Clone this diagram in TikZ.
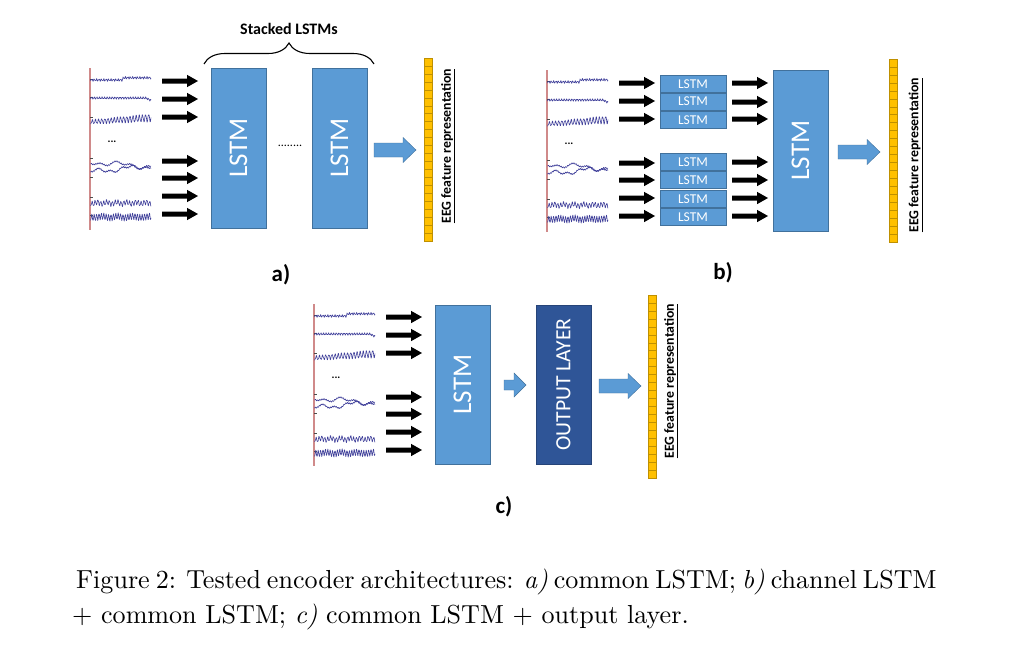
\documentclass[tikz,border=0pt]{standalone}
\usepackage{fontspec}
\usepackage{graphicx}
\newfontfamily\calib{Carlito}
\usetikzlibrary{decorations.pathreplacing}
\definecolor{lblue}{HTML}{5B9BD5}
\definecolor{lbluedk}{HTML}{41719C}
\definecolor{dblue}{HTML}{2F5597}
\definecolor{dbluedk}{HTML}{264478}
\definecolor{gold}{HTML}{FFC000}
\definecolor{golddk}{HTML}{BF9000}
\definecolor{sigcol}{HTML}{3F3F9A}
\definecolor{redax}{HTML}{D08A8A}
\tikzset{
  sig/.style={draw=sigcol, line width=0.6pt, line join=round},
  bigbox/.style={rectangle, fill=lblue, draw=lbluedk, line width=0.3pt, minimum width=55pt, minimum height=160pt, inner sep=0pt},
  outbox/.style={rectangle, fill=dblue, draw=dbluedk, line width=0.3pt, minimum width=55pt, minimum height=159pt, inner sep=0pt},
  smallbox/.style={rectangle, fill=lblue, draw=lbluedk, line width=0.5pt, minimum width=66pt, minimum height=17pt, inner sep=0pt, text=white, font=\calib\fontsize{13.5}{13.5}\selectfont},
  bigtxt/.style={text=white, font=\calib\fontsize{27}{27}\selectfont, rotate=90, inner sep=0pt},
  outtxt/.style={text=white, font=\calib\fontsize{21.7}{21.7}\selectfont, rotate=90, inner sep=0pt},
  feattxt/.style={font=\calib\bfseries\fontsize{13.8}{13.8}\selectfont, rotate=90, inner sep=0pt},
  paneltxt/.style={font=\calib\bfseries\fontsize{23}{23}\selectfont, inner sep=0pt},
  captxt/.style={anchor=base west, inner sep=0pt, font=\fontsize{10}{12}\selectfont},
  blackarr/.pic={\fill[black] (0,-2.5) -- (25,-2.5) -- (25,-6.2) -- (36,0) -- (25,6.2) -- (25,2.5) -- (0,2.5) -- cycle;},
  bigarr/.pic={\filldraw[fill=lblue, draw=lbluedk, line width=0.4pt] (0,-7) -- (29,-7) -- (29,-12.5) -- (42,0) -- (29,12.5) -- (29,7) -- (0,7) -- cycle;},
  smallarr/.pic={\filldraw[fill=lblue, draw=lbluedk, line width=0.4pt] (0,-5) -- (10,-5) -- (10,-12) -- (22,0) -- (10,12) -- (10,5) -- (0,5) -- cycle;},
  featbar/.pic={\foreach \i in {0,...,22} {\filldraw[fill=gold, draw=golddk, line width=0.4pt] (0,{\i*7.95}) rectangle (8.5,{\i*7.95+7.95});}},
  eeg/.pic={
    \draw[redax, line width=1.2pt] (0,0) -- (0,162);
    \foreach \t in {11,29,49,90,109,129,147} {\draw[black!70, line width=0.4pt] (0,\t) -- (2.5,\t);}
    \draw[sig] plot[domain=0.5:61, samples=200] (\x, {12 - 2.2*(\x>33) + 0.9*sin(150*\x) + 0.5*sin(250*mod(\x,36)+30)});
    \draw[sig] plot[domain=0.5:61, samples=200] (\x, {30 + 0.8*sin(140*\x+20) + 0.5*sin(290*mod(\x,36)) + (\x>56)*(\x-56)*0.5});
    \draw[sig] plot[domain=0.5:61, samples=200] (\x, {54 - 0.07*\x + (1.9+0.03*\x)*sin(115*\x) + 0.6*sin(247*\x)});
    \draw[sig] plot[domain=0.5:61, samples=200] (\x, {94 + 1.8*sin(9*\x) + 1.4*sin(23*\x+40) + 0.08*\x + 0.6*sin(170*\x)});
    \draw[sig] plot[domain=0.5:61, samples=200] (\x, {104 - 0.1*\x + 1.8*sin(11*\x+200) + 1.2*sin(31*\x) + 0.6*sin(190*\x)});
    \draw[sig] plot[domain=0.5:61, samples=200] (\x, {135 + 2.3*sin(125*\x) + 0.9*sin(37*\x) + 0.6*sin(280*mod(\x,9))});
    \draw[sig] plot[domain=0.5:61, samples=200] (\x, {149 + 3.1*sin(150*\x) + 0.7*sin(23*\x) + 0.5*sin(330*mod(\x,12))});
    \node[font=\calib\bfseries\fontsize{11}{11}\selectfont, inner sep=0pt] (dots) at (22,74) {...};
    \foreach \r in {13,31,49,93,110,128,146} {\pic at (72,\r) {blackarr};}
  }
}
\begin{document}
\begin{tikzpicture}[x=1pt,y=-1pt]
\fill[white] (0,0) rectangle (1013,653);
\useasboundingbox (0,0) rectangle (1013,653);

% ---------- panel a ----------
\pic (sa) at (90,68) {eeg};
\node[bigbox] (a1) at (238.5,148) {};
\node[bigtxt] (a1t) at (a1.center) {LSTM};
\node[bigbox] (a2) at (339.5,148) {};
\node[bigtxt] (a2t) at (a2.center) {LSTM};
\node[font=\calib\fontsize{12}{12}\selectfont, inner sep=0pt] (adots) at (290,146) {........};
\coordinate (bl) at (204,64);
\coordinate (br) at (374,64);
\draw[line width=1.1pt, decorate, decoration={brace, amplitude=21pt}] (bl) -- (br);
\node[font=\calib\bfseries\fontsize{16}{16}\selectfont, inner sep=0pt] (stk) at (289,29) {Stacked LSTMs};
\pic at (374,150) {bigarr};
\pic at (424,58) {featbar};
\node[feattxt] (fa) at (448,146) {\underline{EEG feature representation}};
\node[paneltxt] (la) at (281,275) {a)};

% ---------- panel b ----------
\pic (sb) at (547,70) {eeg};
\foreach \yy [count=\k] in {84,101.5,120,162,180,199,217} {
  \node[smallbox] (s\k) at (693,\yy) {LSTM};
}
\foreach \r in {83,102,119,162,180,198,216} {\pic at (732,\r) {blackarr};}
\node[bigbox, minimum height=161pt] (b1) at (800.5,150.5) {};
\node[bigtxt] (b1t) at (b1.center) {LSTM};
\pic at (838,152) {bigarr};
\pic at (889,59) {featbar};
\node[feattxt] (fb) at (915.5,155) {\underline{EEG feature representation}};
\node[paneltxt] (lb) at (723,273) {b)};

% ---------- panel c ----------
\pic (sc) at (314,304) {eeg};
\node[bigbox, minimum height=159pt] (c1) at (462.5,384.5) {};
\node[bigtxt] (c1t) at (c1.center) {LSTM};
\pic at (504,385) {smallarr};
\node[outbox] (c2) at (563.5,384.5) {};
\node[outtxt] (c2t) at (c2.center) {OUTPUT LAYER};
\pic at (599,386) {bigarr};
\pic at (648,295) {featbar};
\node[feattxt] (fc) at (671,381) {\underline{EEG feature representation}};
\node[paneltxt] (lc) at (504,507) {c)};

% ---------- caption ----------
\node[captxt] (cap1) at (76,588)
  {\scalebox{2.607}{\makebox[330pt][s]{Figure 2: Tested encoder architectures: \textit{a)} common LSTM; \textit{b)} channel LSTM}}};
\node[captxt] (cap2) at (72,623)
  {\scalebox{2.607}{+ common LSTM; \textit{c)} common LSTM + output layer.}};
\end{tikzpicture}
\end{document}
